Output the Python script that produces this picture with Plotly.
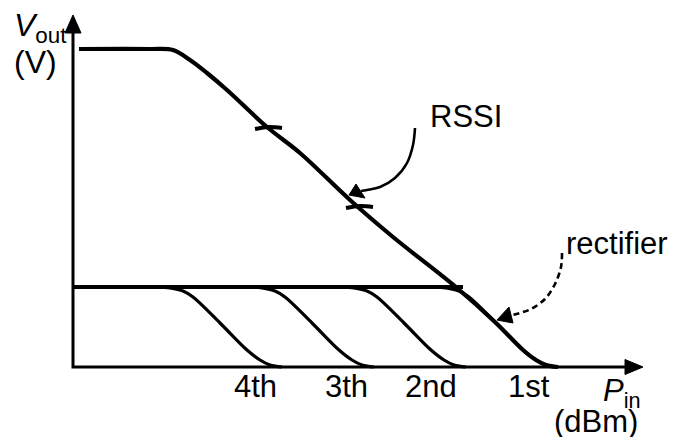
import plotly.graph_objects as go

# ---------------- data (arbitrary units: P_in along x, V_out along y) ----------------
rssi_x = [6, 77, 100, 117, 134, 154, 194, 227, 277, 320, 384, 423, 450, 463, 473, 485]
rssi_y = [318, 318, 317, 307, 294, 277, 240, 214, 167, 130, 79, 44, 17, 7, 2, 0]

rect_level_x = [0, 390]
rect_level_y = [80, 80]

stage_y = [80, 79, 76, 70, 44, 17, 7, 2, 0]
stage4_x = [84, 97, 110, 120, 147, 174, 187, 197, 209]
stage3_x = [176, 189, 202, 212, 239, 266, 279, 289, 301]
stage2_x = [268, 281, 294, 304, 331, 358, 371, 381, 393]
stage1_x = [360, 373, 386, 396, 423, 450, 463, 473, 485]

handoff_x = [[182, 196, 209], [273, 287, 300]]
handoff_y = [[238, 240, 239], [159, 161, 160]]

stage_labels = ["4th", "3th", "2nd", "1st"]
stage_label_x = [182, 273, 358, 456]

# ---------------- decoration geometry ----------------
axis_x = [0, 0, 553]
axis_y = [334, 0, 0]
yhead = ([0, -8, 8, 0], [352, 334, 334, 352])
xhead = ([570, 552, 552, 570], [0, 7.5, -7.5, 0])

rssi_arrow_x = [342, 340, 334, 322, 307, 294, 288]
rssi_arrow_y = [239, 222, 204, 189, 180, 177, 176]
rssi_head = ([276, 283, 292, 276], [172, 183, 169, 172])

rect_arrow_x = [489, 488, 482, 472, 458, 447, 439]
rect_arrow_y = [114, 100, 83, 68, 58, 54, 52]
rect_head = ([424, 436, 440, 424], [47, 60, 44, 47])

FONT = "Liberation Sans, Arial, sans-serif"

fig = go.Figure()

def line(x, y, w, dash="solid", shape="spline"):
    fig.add_trace(go.Scatter(x=x, y=y, mode="lines",
                             line=dict(color="black", width=w, dash=dash, shape=shape, smoothing=1),
                             hoverinfo="skip", showlegend=False))

def tri(xy):
    fig.add_trace(go.Scatter(x=xy[0], y=xy[1], mode="lines", fill="toself",
                             fillcolor="black", line=dict(color="black", width=1),
                             hoverinfo="skip", showlegend=False))

# axes
line(axis_x, axis_y, 3, shape="linear")
tri(yhead)
tri(xhead)

# rectifier level + stage curves
line(rect_level_x, rect_level_y, 4, shape="linear")
for sx in (stage4_x, stage3_x, stage2_x, stage1_x):
    line(sx, stage_y, 3.2)

# RSSI curve
line(rssi_x, rssi_y, 4.2)
for hx, hy in zip(handoff_x, handoff_y):
    line(hx, hy, 4)

# pointer arrows
line(rssi_arrow_x, rssi_arrow_y, 2.6)
tri(rssi_head)
line(rect_arrow_x, rect_arrow_y, 2.6, dash="6px,4px")
tri(rect_head)

def txt(x, y, s, xa="center", ya="middle", size=31):
    fig.add_annotation(x=x, y=y, xref="x", yref="y", text=s, showarrow=False,
                       xanchor=xa, yanchor=ya, font=dict(family=FONT, size=size, color="black"))

for lab, lx in zip(stage_labels, stage_label_x):
    txt(lx, -19, lab)

txt(-61, 340, "<i>V</i><sub>out</sub>", xa="left", size=32)
txt(-38, 305, "(V)", size=32)
txt(393, 251, "RSSI")
txt(544, 124, "rectifier")
txt(528, -26, "<i>P</i><sub>in</sub>", xa="left")
txt(523, -54, "(dBm)")

fig.update_layout(
    width=673, height=437,
    margin=dict(l=0, r=0, t=0, b=0),
    paper_bgcolor="white", plot_bgcolor="white",
    xaxis=dict(range=[-73, 600], visible=False, fixedrange=True),
    yaxis=dict(range=[-70, 367], visible=False, fixedrange=True),
    showlegend=False,
)

fig.write_html("out.html", post_script="document.body.style.margin='0';",
               config={"displayModeBar": False})
